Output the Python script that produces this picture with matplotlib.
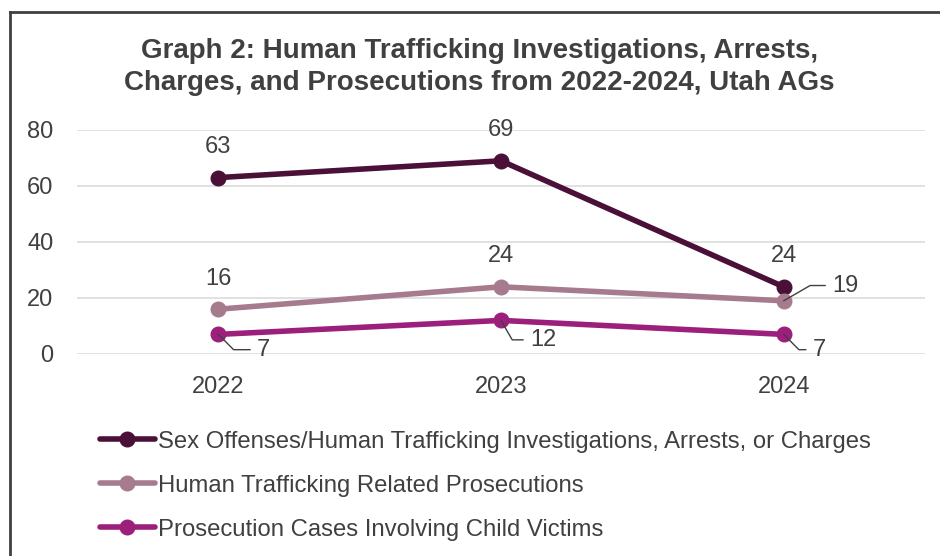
import matplotlib.pyplot as plt
from matplotlib.lines import Line2D

years = ["2022", "2023", "2024"]
investigations = [63, 69, 24]
ht_prosecutions = [16, 24, 19]
child_cases = [7, 12, 7]

series_names = [
    "Sex Offenses/Human Trafficking Investigations, Arrests, or Charges",
    "Human Trafficking Related Prosecutions",
    "Prosecution Cases Involving Child Victims",
]
colors = ["#4a1038", "#a67b8e", "#9c1f7c"]

plt.rcParams['font.family'] = ['Liberation Sans', 'DejaVu Sans']
text_col = "#404040"
fs = 17

fig = plt.figure(figsize=(9.4, 5.56), dpi=100)
ax = fig.add_axes([77 / 940, 1 - 354 / 556, 848 / 940, 224 / 556])

x = list(range(len(years)))
all_series = [investigations, ht_prosecutions, child_cases]
for vals, c, name in zip(all_series, colors, series_names):
    ax.plot(x, vals, color=c, lw=4, marker='o', ms=10.5, label=name,
            solid_capstyle='round', zorder=3)

ax.set_xlim(-0.5, 2.5)
ax.set_ylim(0, 80)
ax.set_yticks([0, 20, 40, 60, 80])
ax.set_xticks(x)
ax.set_xticklabels(years)
ax.grid(axis='y', color='#dcdcdc', lw=1.2)
ax.set_axisbelow(True)
for s in ax.spines.values():
    s.set_visible(False)
ax.tick_params(length=0, labelsize=fs, labelcolor=text_col)
ax.tick_params(axis='y', pad=17)
ax.tick_params(axis='x', pad=16)

lbl = dict(fontsize=fs, color=text_col, ha='center', va='center')
# labels above points
for i, v in enumerate(investigations):
    ax.annotate(str(v), (i, v), xytext=(0, 22), textcoords='offset points', **lbl)
for i, v in enumerate(ht_prosecutions[:2]):
    ax.annotate(str(v), (i, v), xytext=(0, 22), textcoords='offset points', **lbl)


def leader(i, v, dx, dy, angle):
    ax.annotate(str(v), (i, v), xytext=(dx, dy), textcoords='offset points',
                fontsize=fs, color=text_col, ha='left', va='center',
                arrowprops=dict(arrowstyle='-', color=text_col, lw=1,
                                shrinkA=3, shrinkB=0,
                                connectionstyle=f'angle,angleA=0,angleB={angle},rad=0'))


leader(2, ht_prosecutions[2], 35, 11, 30)
leader(0, child_cases[0], 28, -11, -45)
leader(1, child_cases[1], 21, -14, -60)
leader(2, child_cases[2], 21, -11, -45)

fig.text(0.51, 1 - 67 / 556,
         "Graph 2: Human Trafficking Investigations, Arrests,\nCharges, and Prosecutions from 2022-2024, Utah AGs",
         ha='center', va='center', fontsize=20, fontweight='bold',
         color=text_col, linespacing=1.3)

leg = fig.legend(loc='upper left', bbox_to_anchor=(90 / 940, 1 - 421 / 556),
                 frameon=False, fontsize=17.2, handlelength=2.33,
                 handletextpad=0.12, labelspacing=0.92, borderaxespad=0)
for t in leg.get_texts():
    t.set_color(text_col)

# chart border
fig.add_artist(Line2D([10 / 940, 1], [1 - 12 / 556] * 2, color='#404040', lw=2))
fig.add_artist(Line2D([10 / 940] * 2, [0, 1 - 12 / 556], color='#404040', lw=2))

fig.savefig("out.png", dpi=100)
